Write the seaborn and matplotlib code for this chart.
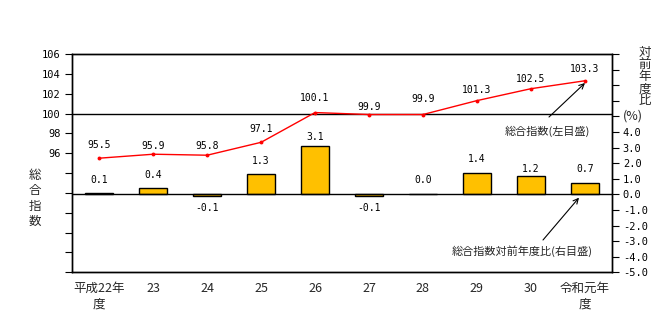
import numpy as np
import pandas as pd
import matplotlib
matplotlib.use("Agg")
import matplotlib.pyplot as plt
import seaborn as sns

# ---- data ----
categories = ["平成22年度", "23", "24", "25", "26", "27", "28", "29", "30", "令和元年度"]
xtick_labels = ["平成22年\n度", "23", "24", "25", "26", "27", "28", "29", "30", "令和元年\n度"]
index_values = [95.5, 95.9, 95.8, 97.1, 100.1, 99.9, 99.9, 101.3, 102.5, 103.3]
yoy_values = [0.1, 0.4, -0.1, 1.3, 3.1, -0.1, 0.0, 1.4, 1.2, 0.7]
left_ticks = list(range(84, 107, 2))
right_ticks = list(range(-5, 10))

# label offsets in pixels (layout, not data)
line_label_dy = [13, 8, 9, 13, 15, 8, 16, 11, 10, 12]
bar_label_dy = [13, 13, -12, 13, 9, -12, 14, 14, 7, 14]

sns.set_theme(style="ticks")
plt.rcParams["font.family"] = ["Noto Sans CJK JP", "DejaVu Sans"]

W, H = 667, 332
fig = plt.figure(figsize=(W / 100, H / 100), dpi=100)
ax = fig.add_axes([72.3 / W, (H - 272.3) / H, (611.7 - 72.3) / W, (272.3 - 54) / H])
ax2 = ax.twinx()

df = pd.DataFrame({"cat": categories, "x": np.arange(len(categories)),
                   "index": index_values, "yoy": yoy_values})

# bars (right axis)
sns.barplot(data=df, x="cat", y="yoy", ax=ax2, color="#FFC000", saturation=1,
            edgecolor="black", linewidth=1.0, width=0.52)
ax2.axhline(0, color="black", lw=1.0, zorder=1)

# line (left axis)
sns.lineplot(data=df, x="x", y="index", ax=ax, color="#FF0000", lw=1.0,
             marker="o", markersize=2.8, markeredgewidth=0, zorder=3)
ax.axhline(100, color="black", lw=1.0, zorder=2)

ax.set_ylim(84, 106)
ax2.set_ylim(-5, 9)
ax.set_xlim(-0.5, 9.5)
ax2.set_xlim(-0.5, 9.5)

mono = "DejaVu Sans Mono"
ax.set_yticks(left_ticks)
ax.set_yticklabels([str(t) if t >= 96 else "" for t in left_ticks], family=mono, fontsize=7.5)
ax2.set_yticks(right_ticks)
ax2.set_yticklabels([f"{t:.1f}" if t <= 4 else "" for t in right_ticks],
                    family=mono, fontsize=7.5)
ax.tick_params(axis="y", direction="out", length=5, width=0.8, pad=3.5, colors="black")
ax2.tick_params(axis="y", direction="out", length=5, width=0.8, pad=3, colors="black")

ax.set_xticks(np.arange(len(categories)))
ax.set_xticklabels(xtick_labels, fontsize=9, linespacing=1.25)
ax.tick_params(axis="x", length=0, pad=7)
ax.set_xlabel("")
ax.set_ylabel("")
ax2.set_ylabel("")

for a in (ax, ax2):
    for s in a.spines.values():
        s.set_visible(True)
        s.set_color("black")
        s.set_linewidth(1.0)
    a.grid(False)

# data labels
for i, (v, dy) in enumerate(zip(index_values, line_label_dy)):
    ax.annotate(f"{v:.1f}", xy=(i, v), xytext=(0, dy), textcoords="offset pixels",
                ha="center", va="center", family=mono, fontsize=7, color="black")
for i, (v, dy) in enumerate(zip(yoy_values, bar_label_dy)):
    ax2.annotate(f"{v:.1f}", xy=(i, max(v, 0) if dy > 0 else min(v, 0)), xytext=(0, dy),
                 textcoords="offset pixels", ha="center", va="center", family=mono,
                 fontsize=7, color="black")

# annotations with arrows
def fp(x, y):
    return (x, H - y)

arrow = dict(arrowstyle="->", color="black", lw=0.8, mutation_scale=9, shrinkA=0, shrinkB=0)
fig.text(547 / W, 1 - 131.7 / H, "総合指数(左目盛)", ha="center", va="center", fontsize=8)
ax.annotate("", xy=fp(585, 83), xycoords="figure pixels", xytext=fp(549, 117),
            textcoords="figure pixels", arrowprops=arrow)
fig.text(522.5 / W, 1 - 250.7 / H, "総合指数対前年度比(右目盛)", ha="center", va="center", fontsize=8)
ax.annotate("", xy=fp(579, 197.7), xycoords="figure pixels", xytext=fp(543, 240),
            textcoords="figure pixels", arrowprops=arrow)

# axis titles (vertical stacked)
fig.text(35 / W, 1 - 198.5 / H, "総\n合\n指\n数", ha="center", va="center", fontsize=9,
         linespacing=1.25)
fig.text(645 / W, 1 - 76.7 / H, "対\n前\n年\n度\n比", ha="center", va="center", fontsize=9,
         linespacing=0.9)
fig.text(633 / W, 1 - 116 / H, "(%)", ha="center", va="center", fontsize=9)

fig.savefig("out.png", dpi=100)
